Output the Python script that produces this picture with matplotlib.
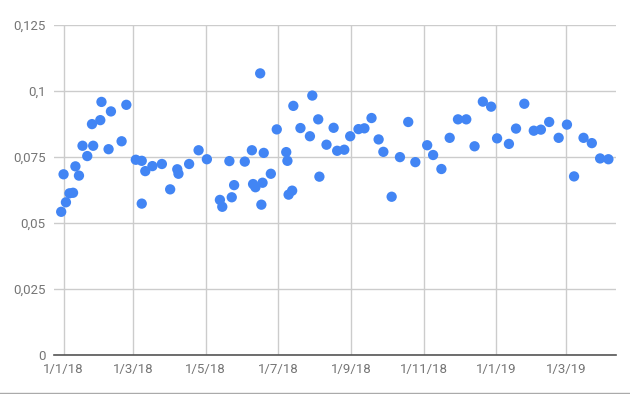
import matplotlib
matplotlib.use("Agg")
import matplotlib.pyplot as plt
import matplotlib.dates as mdates
from matplotlib.lines import Line2D
import numpy as np
import datetime as dt

# dates and values
dates = ["2017-12-30", "2018-01-01", "2018-01-03", "2018-01-06", "2018-01-09",
         "2018-01-11", "2018-01-14", "2018-01-17", "2018-01-21", "2018-01-25",
         "2018-01-26", "2018-02-01", "2018-02-02", "2018-02-08", "2018-02-10",
         "2018-02-19", "2018-02-23", "2018-03-03", "2018-03-08", "2018-03-08",
         "2018-03-11", "2018-03-17", "2018-03-25", "2018-04-01", "2018-04-07",
         "2018-04-08", "2018-04-17", "2018-04-25", "2018-05-02", "2018-05-13",
         "2018-05-15", "2018-05-21", "2018-05-23", "2018-05-25", "2018-06-03",
         "2018-06-09", "2018-06-10", "2018-06-12", "2018-06-16", "2018-06-17",
         "2018-06-18", "2018-06-19", "2018-06-25", "2018-06-30", "2018-07-08",
         "2018-07-09", "2018-07-10", "2018-07-13", "2018-07-14", "2018-07-20",
         "2018-07-28", "2018-07-30", "2018-08-04", "2018-08-05", "2018-08-11",
         "2018-08-17", "2018-08-20", "2018-08-26", "2018-08-31", "2018-09-07",
         "2018-09-12", "2018-09-18", "2018-09-24", "2018-09-28", "2018-10-05",
         "2018-10-12", "2018-10-19", "2018-10-25", "2018-11-04", "2018-11-09",
         "2018-11-16", "2018-11-23", "2018-11-30", "2018-12-07", "2018-12-14",
         "2018-12-21", "2018-12-28", "2019-01-02", "2019-01-12", "2019-01-18",
         "2019-01-25", "2019-02-02", "2019-02-08", "2019-02-15", "2019-02-23",
         "2019-03-02", "2019-03-08", "2019-03-16", "2019-03-23", "2019-03-30",
         "2019-04-06"]
values = [0.0541, 0.0683, 0.0577, 0.0611, 0.0613,
          0.0713, 0.0678, 0.0791, 0.0752, 0.0873,
          0.0791, 0.0888, 0.0957, 0.0778, 0.0921,
          0.0808, 0.0946, 0.0738, 0.0734, 0.0572,
          0.0695, 0.0714, 0.0722, 0.0626, 0.0702,
          0.0685, 0.0722, 0.0774, 0.0740, 0.0586,
          0.0560, 0.0733, 0.0596, 0.0642, 0.0731,
          0.0774, 0.0646, 0.0634, 0.1065, 0.0568,
          0.0651, 0.0764, 0.0685, 0.0853, 0.0767,
          0.0734, 0.0606, 0.0621, 0.0942, 0.0858,
          0.0827, 0.0981, 0.0891, 0.0674, 0.0795,
          0.0859, 0.0772, 0.0776, 0.0827, 0.0854,
          0.0857, 0.0896, 0.0815, 0.0768, 0.0598,
          0.0748, 0.0881, 0.0729, 0.0793, 0.0756,
          0.0703, 0.0821, 0.0891, 0.0891, 0.0789,
          0.0958, 0.0939, 0.0819, 0.0798, 0.0856,
          0.0950, 0.0848, 0.0852, 0.0881, 0.0821,
          0.0871, 0.0675, 0.0821, 0.0801, 0.0743,
          0.0740]
yticks = [0, 0.025, 0.05, 0.075, 0.1, 0.125]
xtick_dates = ["2018-01-01", "2018-03-01", "2018-05-01", "2018-07-01",
               "2018-09-01", "2018-11-01", "2019-01-01", "2019-03-01"]
xtick_labels = ["1/1/18", "1/3/18", "1/5/18", "1/7/18",
                "1/9/18", "1/11/18", "1/1/19", "1/3/19"]

to_dt = lambda s: dt.datetime.strptime(s, "%Y-%m-%d")
x = [to_dt(d) for d in dates]

plt.rcParams['font.family'] = ['Roboto', 'DejaVu Sans']

fig = plt.figure(figsize=(6.3, 3.94), dpi=100)
ax = fig.add_axes([0.0857, 0.0997, 0.8913, 0.8381])

ax.scatter(x, values, s=55, color='#4285f4', edgecolors='none', zorder=3)

ax.set_ylim(0, 0.125)
ax.set_xlim(to_dt("2017-12-23") + dt.timedelta(hours=22), to_dt("2019-04-12"))
ax.set_yticks(yticks)
ax.set_yticklabels([('%g' % v).replace('.', ',') for v in yticks])
ax.set_xticks([to_dt(d) for d in xtick_dates])
ax.set_xticklabels(xtick_labels)

ax.grid(True, color='#cccccc', linewidth=1)
ax.set_axisbelow(True)
for s in ['top', 'right', 'left']:
    ax.spines[s].set_visible(False)
ax.spines['bottom'].set_color('#555555')
ax.spines['bottom'].set_linewidth(1.2)
ax.tick_params(length=0, labelsize=9.5, colors='#757575')
ax.tick_params(axis='x', pad=6)
ax.tick_params(axis='y', pad=6)

# thin border at bottom of screenshot
fig.add_artist(Line2D([0, 1], [0.003, 0.003], color='#aaaaaa', linewidth=1,
                      transform=fig.transFigure))

fig.savefig('out.png', dpi=100)
